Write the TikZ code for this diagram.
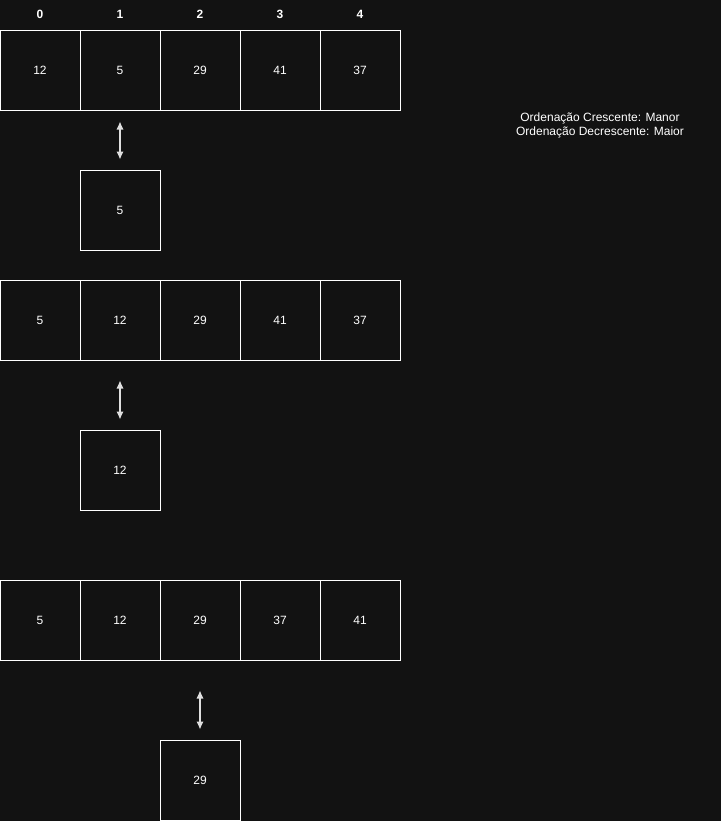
\documentclass[tikz,border=0pt]{standalone}
\usepackage{fontspec}
\setmainfont{Liberation Sans}
\usetikzlibrary{positioning,arrows.meta}
\definecolor{bg}{HTML}{121212}
\tikzset{>={Latex[length=6pt,width=5.5pt]}}
\tikzset{
    cell/.style={draw=white,line width=0.75pt,minimum size=60pt,inner sep=0pt,
        text=white,font=\fontsize{9}{10}\selectfont},
    idx/.style={text=white,font=\fontsize{9}{10}\selectfont\bfseries},
    swap/.style={<->,draw=white!75!gray,line width=0.9pt}
}

\begin{document}
\begin{tikzpicture}[x=0.75pt,y=-0.75pt]
            \fill[bg] (0,0) rectangle (721,821);
            \useasboundingbox (0,0) rectangle (721,821);
            % indices
            \foreach \i in {0,...,4}
                \node[idx] (h\i) at (40+80*\i,14) {\i};
            % first pass
            \foreach \v [count=\i from 0] in {12,5,29,41,37}
                \node[cell] (a\i) at (40+80*\i,70) {\v};
            \node[cell] (ka) at (120,210) {5};
            \draw[swap] ([yshift=-8.25pt]a1.south) -- ([yshift=7.5pt]ka.north);
            % second pass
            \foreach \v [count=\i from 0] in {5,12,29,41,37}
                \node[cell] (b\i) at (40+80*\i,320) {\v};
            \node[cell] (kb) at (120,470) {12};
            \draw[swap] ([yshift=-15pt]b1.south) -- ([yshift=7.5pt]kb.north);
            % third pass
            \foreach \v [count=\i from 0] in {5,12,29,37,41}
                \node[cell] (c\i) at (40+80*\i,620) {\v};
            \node[cell] (kc) at (200,780) {29};
            \draw[swap] ([yshift=-22.5pt]c2.south) -- ([yshift=7.5pt]kc.north);
            % legend
            \node[text=white,font=\fontsize{9}{10.5}\selectfont,align=center]
                (note) at (600,125) {Ordenação Crescente: Manor\\Ordenação Decrescente: Maior};
        \end{tikzpicture}
\end{document}
